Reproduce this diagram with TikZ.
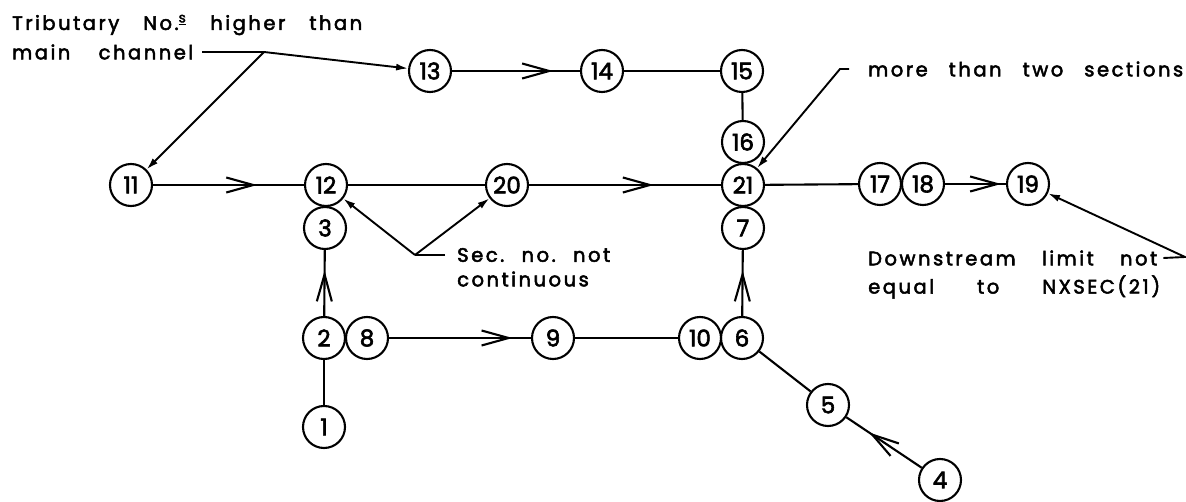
\documentclass[tikz,border=0pt]{standalone}
\usepackage{fontspec}
\setmainfont{Poppins}[LetterSpace=13,FakeBold=2.6]
\usetikzlibrary{arrows.meta,decorations.markings}
\begin{document}
\begin{tikzpicture}[x=1pt,y=-1pt,
  sec/.style={circle,draw,line width=2.1pt,minimum size=42pt,inner sep=0pt,font=\fontsize{23}{23}\selectfont\addfontfeatures{LetterSpace=0}},
  lbl/.style={inner sep=0pt,anchor=west,font=\fontsize{19.5}{19.5}\selectfont},
  link/.style={line width=2.1pt},
  flow/.style={link,postaction={decorate},decoration={markings,mark=at position #1 with {\arrow{Straight Barb[length=27pt,width=15pt,line width=2.1pt]}}}},
  leader/.style={line width=1.9pt},
  tip/.style={-{Latex[length=12pt,width=7pt]}}
]
\useasboundingbox (0,0) rectangle (1186,502);
% sections
\node[sec] (n1) at (324,427) {1};
\node[sec] (n2) at (324,338) {2};
\node[sec] (n8) at (367,338) {8};
\node[sec] (n3) at (325,228) {3};
\node[sec] (n12) at (326,185) {12};
\node[sec] (n11) at (131,185) {11};
\node[sec] (n20) at (507,185) {20};
\node[sec] (n21) at (743,185) {21};
\node[sec] (n16) at (743,142) {16};
\node[sec] (n15) at (742,71) {15};
\node[sec] (n14) at (602,71) {14};
\node[sec] (n13) at (430,71) {13};
\node[sec] (n7) at (743,228) {7};
\node[sec] (n6) at (742,338) {6};
\node[sec] (n10) at (700,338) {10};
\node[sec] (n9) at (553,338) {9};
\node[sec] (n5) at (828,405) {5};
\node[sec] (n4) at (940,480) {4};
\node[sec] (n17) at (880,184) {17};
\node[sec] (n18) at (923,184) {18};
\node[sec] (n19) at (1028,184) {19};
% channels
\draw[flow=0.69] (n11) -- (n12);
\draw[link] (n12) -- (n20);
\draw[flow=0.65] (n20) -- (n21);
\draw[flow=0.79] (n13) -- (n14);
\draw[link] (n14) -- (n15);
\draw[link] (n15) -- (n16);
\draw[link] (n21) -- (n17);
\draw[flow=0.92] (n18) -- (n19);
\draw[link] (n1) -- (n2);
\draw[flow=0.69] (n2) -- (n3);
\draw[flow=0.87] (n8) -- (n9);
\draw[link] (n9) -- (n10);
\draw[flow=0.69] (n6) -- (n7);
\draw[link] (n6) -- (n5);
\draw[flow=0.7] (n4) -- (n5);
% annotations
\node[lbl] (t1) at (12,25) {\makebox[350pt][s]{Tributary No.\textsuperscript{\underline{s}} higher than}};
\node[lbl] (t2) at (12,52) {\makebox[181pt][s]{main channel}};
\coordinate (tj) at (264,52);
\draw[leader] ([xshift=9pt]t2.east) -- (tj);
\draw[leader,tip] (tj) -- (n13);
\draw[leader,tip] (tj) -- (n11);
\node[lbl] (m) at (868,69) {\makebox[315pt][s]{more than two sections}};
\coordinate (mj) at (840,69);
\draw[leader,tip] ([xshift=-19pt]m.west) -- (mj) -- (n21);
\node[lbl] (s1) at (457,255) {\makebox[153pt][s]{Sec. no. not}};
\node[lbl] (s2) at (457,279) {continuous};
\coordinate (sj) at (415,255);
\draw[leader] ([xshift=-12pt]s1.west) -- (sj);
\draw[leader,tip] (sj) -- (n12);
\draw[leader,tip] (sj) -- (n20);
\node[lbl] (d1) at (868,258) {\makebox[289pt][s]{Downstream limit not}};
\node[lbl] (d2) at (868,287) {\makebox[292pt][s]{equal to NXSEC(21)}};
\coordinate (dj) at (1185,257);
\draw[leader,tip] ([xshift=6pt]d1.east) -- (dj) -- (n19);
\end{tikzpicture}
\end{document}
